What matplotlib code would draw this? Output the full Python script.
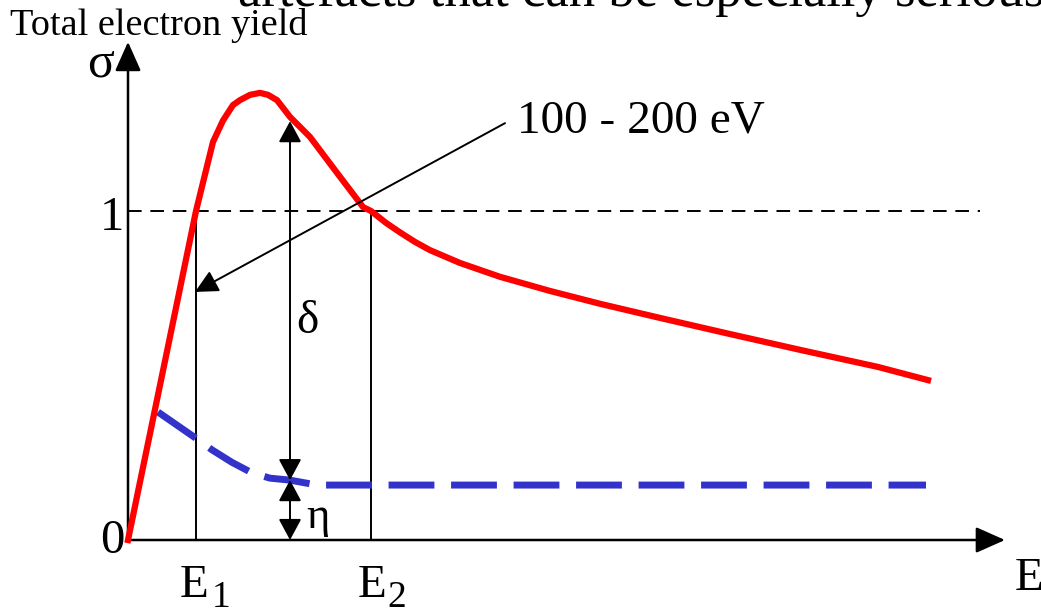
import matplotlib
matplotlib.use("Agg")
import matplotlib.pyplot as plt

# Total yield sigma(E): rise, maximum, slow decay (energy in arbitrary units)
red_E = [0.00, 0.44, 0.68, 0.85, 0.95, 1.05, 1.12, 1.22, 1.32, 1.40, 1.49,
         1.62, 1.82, 2.09, 2.35, 2.43, 2.58, 2.72, 2.87, 3.02, 3.32, 3.72,
         4.22, 4.72, 5.32, 6.02, 6.72, 7.50, 8.00]
red_sigma = [0.000, 0.647, 1.000, 1.210, 1.275, 1.322, 1.337, 1.353, 1.359,
             1.353, 1.337, 1.286, 1.225, 1.116, 1.012, 1.000, 0.964, 0.935,
             0.906, 0.881, 0.842, 0.800, 0.757, 0.718, 0.675, 0.626, 0.578,
             0.526, 0.486]

# Backscattered part eta(E)
blue_E = [0.30, 0.69, 0.84, 1.04, 1.24, 1.42, 1.62, 1.89, 7.98]
blue_eta = [0.389, 0.307, 0.274, 0.236, 0.204, 0.188, 0.182, 0.167, 0.167]

E1, E2 = 0.68, 2.43
delta_x = 1.62
eta_level = 0.182
delta_top = 1.273
arrow_tip = (0.67, 0.754)
arrow_tail = (3.77, 1.267)

plt.rcParams["font.family"] = ["Liberation Serif", "DejaVu Serif"]

fig = plt.figure(figsize=(10.41, 6.12), dpi=100)
ax = fig.add_axes([0, 0, 1, 1])
ax.set_xlim(-1.28, 9.13)
ax.set_ylim(-0.2188, 1.6413)
ax.axis("off")

# axes with arrowheads
ax_style = dict(arrowstyle="-|>,head_length=18,head_width=8", color="black",
                lw=1.8, shrinkA=0, shrinkB=0, mutation_scale=1)
ax.annotate("", xy=(0, 1.514), xytext=(0, 0), arrowprops=ax_style)
ax.annotate("", xy=(8.77, 0), xytext=(0, 0), arrowprops=ax_style)

# unity yield reference line and crossover energies
ax.plot([0, 8.52], [1, 1], color="black", lw=1.4, dashes=(7, 4.5))
ax.plot([E1, E1], [0, 1], color="black", lw=1.4)
ax.plot([E2, E2], [0, 1], color="black", lw=1.4)

# curves
ax.plot(blue_E, blue_eta, color="#3333cc", lw=5, dashes=(6.6, 2.4),
        solid_capstyle="butt", dash_capstyle="butt", zorder=3)
ax.plot(red_E, red_sigma, color="#ff0000", lw=4.5, solid_joinstyle="round",
        zorder=4)

# delta and eta double arrows
dbl = dict(arrowstyle="<|-|>,head_length=13,head_width=7", color="black",
           lw=1.4, shrinkA=0, shrinkB=0, mutation_scale=1)
ax.annotate("", xy=(delta_x, delta_top), xytext=(delta_x, eta_level),
            arrowprops=dbl, zorder=5)
ax.annotate("", xy=(delta_x, eta_level), xytext=(delta_x, 0),
            arrowprops=dbl, zorder=5)
ax.text(1.79, 0.663, "δ", fontsize=34, ha="center", va="center")
ax.text(1.90, 0.07, "η", fontsize=32, ha="center", va="center")

# energy range pointer
ax.annotate("", xy=arrow_tip, xytext=arrow_tail,
            arrowprops=dict(arrowstyle="-|>,head_length=14,head_width=7",
                            color="black", lw=1.4, shrinkA=0, shrinkB=0,
                            mutation_scale=1), zorder=6)
ax.text(3.89, 1.240, "100 - 200 eV", fontsize=34, ha="left", va="baseline")

# tick labels and axis names
ax.text(-0.04, 0.942, "1", fontsize=35, ha="right", va="baseline")
ax.text(-0.03, -0.040, "0", fontsize=35, ha="right", va="baseline")
ax.text(-0.27, 1.445, "σ", fontsize=36, ha="center", va="center")
ax.text(-1.18, 1.535, "Total electron yield", fontsize=27.5, ha="left",
        va="baseline")
ax.text(0.52, -0.173, "E", fontsize=34, ha="left", va="baseline")
ax.text(0.84, -0.205, "1", fontsize=27, ha="left", va="baseline")
ax.text(2.30, -0.173, "E", fontsize=34, ha="left", va="baseline")
ax.text(2.59, -0.205, "2", fontsize=27, ha="left", va="baseline")
ax.text(8.87, -0.152, "E", fontsize=34, ha="left", va="baseline")

# heading line running off the top edge
ax.text(1.10, 1.623, "artefacts that can be especially serious", fontsize=38,
        ha="left", va="baseline")

fig.savefig("out.png", dpi=100)
